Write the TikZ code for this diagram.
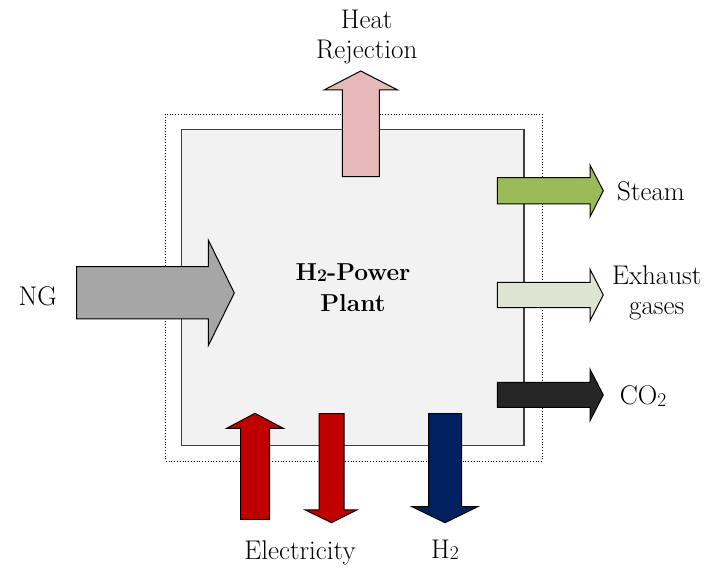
\documentclass[tikz,border=0pt]{standalone}
\usepackage{graphicx}
\newcommand\subtwo{\raisebox{-0.12ex}{\scalebox{0.72}{2}}}
\definecolor{boxfill}{HTML}{F2F2F2}
\definecolor{heatc}{HTML}{E6B9B8}
\definecolor{redc}{HTML}{C00000}
\definecolor{navyc}{HTML}{002060}
\definecolor{steamc}{HTML}{9BBB59}
\definecolor{exhc}{HTML}{DDE4CF}
\definecolor{co2c}{HTML}{262626}
\definecolor{ngc}{HTML}{A6A6A6}
\tikzset{
  blockarrow/.style={draw=black, line width=1pt, line join=miter},
  lbl/.style={font=\fontsize{27}{30}\selectfont, align=center, inner sep=0pt},
}
\begin{document}
\begin{tikzpicture}[x=1pt,y=-1pt]
\useasboundingbox (0,0) rectangle (705,569);
% outer dotted boundary
\draw[dotted, line width=0.8pt] (165.7,114) rectangle (542,461);
% plant box
\draw[fill=boxfill, draw=black!75, line width=1.2pt] (181.7,129.3) rectangle (524,445.7);
\node[lbl, font=\fontsize{24.5}{31}\selectfont\bfseries] (plant) at (353,287.5) {H\subtwo-Power\\Plant};
% Heat rejection (up)
\draw[blockarrow, fill=heatc] (342.3,176.7) -- (342.3,90) -- (324,90) -- (360.7,71) -- (397.7,90) -- (379.3,90) -- (379.3,176.7) -- cycle;
\node[lbl] (heat) at (366.7,37.5) {Heat\\Rejection};
% NG (in)
\draw[blockarrow, fill=ngc] (76.7,266.7) -- (208.3,266.7) -- (208.3,240) -- (234.3,293) -- (208.3,345.7) -- (208.3,319) -- (76.7,319) -- cycle;
\node[lbl, anchor=center] (ng) at (37.7,296.5) {NG};
% Steam
\draw[blockarrow, fill=steamc] (497.3,177.7) -- (590,177.7) -- (590,165) -- (603.3,190.8) -- (590,216.7) -- (590,204) -- (497.3,204) -- cycle;
\node[lbl] (steam) at (651,191) {Steam};
% Exhaust
\draw[blockarrow, fill=exhc] (497.3,282.3) -- (590,282.3) -- (590,269.3) -- (603.3,295) -- (590,320.7) -- (590,307.7) -- (497.3,307.7) -- cycle;
\node[lbl] (exh) at (656.7,292.5) {Exhaust\\gases};
% CO2
\draw[blockarrow, fill=co2c] (497.3,382.3) -- (590,382.3) -- (590,369.3) -- (603.3,395) -- (590,420.7) -- (590,407.3) -- (497.3,407.3) -- cycle;
\node[lbl] (co2) at (643,396) {CO\subtwo};
% Electricity in (up)
\draw[blockarrow, fill=redc] (240.7,519.3) -- (240.7,428.3) -- (226.7,428.3) -- (255,413.3) -- (283.3,428.3) -- (269.7,428.3) -- (269.7,519.3) -- cycle;
% Electricity out (down)
\draw[blockarrow, fill=redc] (319,413.7) -- (344,413.7) -- (344,510) -- (356.7,510) -- (331.5,522.7) -- (305.3,510) -- (319,510) -- cycle;
\node[lbl] (elec) at (300,553) {Electricity};
% H2 (down)
\draw[blockarrow, fill=navyc] (428.7,413.7) -- (461.7,413.7) -- (461.7,506.7) -- (477.7,506.7) -- (445,522.7) -- (412,506.7) -- (428.7,506.7) -- cycle;
\node[lbl] (h2) at (445,550) {H\subtwo};
\end{tikzpicture}
\end{document}
